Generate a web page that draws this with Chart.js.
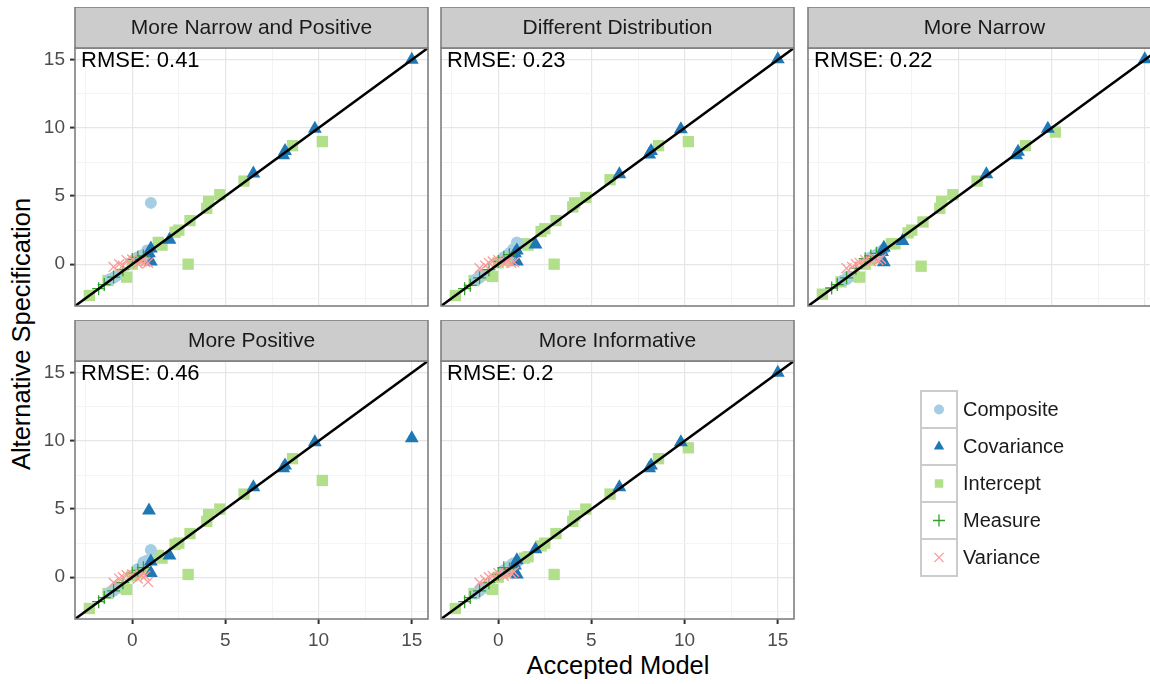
<!DOCTYPE html>
<html>
<head>
<meta charset="utf-8">
<script src="https://cdn.jsdelivr.net/npm/chart.js@4/dist/chart.umd.min.js"></script>
<style>
html, body { margin:0; padding:0; background:#ffffff; width:1150px; height:684px; overflow:hidden; position:relative; font-family:"Liberation Sans", Arial, sans-serif; }
canvas { position:absolute; }
.axis-title { position:absolute; color:#000; font-size:25.5px; white-space:nowrap; line-height:1; }
</style>
</head>
<body>
<div class="axis-title" style="left:618px; top:666px; transform:translate(-50%,-50%);">Accepted Model</div>
<div class="axis-title" style="left:22px; top:334px; transform:translate(-50%,-50%) rotate(-90deg);">Alternative Specification</div>
<script>
// ---------------- DATA ----------------
const panelTitles = ["More Narrow and Positive", "Different Distribution", "More Narrow", "More Positive", "More Informative"];
const rmseValues = ["0.41", "0.23", "0.22", "0.46", "0.2"];
const seriesNames = ["Composite", "Covariance", "Intercept", "Measure", "Variance"];
const tickLabels = [0, 5, 10, 15];
const gridValues = [-2.5, 0, 2.5, 5, 7.5, 10, 12.5, 15];
const axisRange = [-3.07, 15.87];
const referenceLine = [-4, 17];

// Accepted Model values (x) per parameter type
const compositeX  = [-1.2, -1.0, -0.9, 0.3, 0.6, 0.8, 1.0];
const covarianceX = [15.0, 9.8, 8.2, 8.1, 6.5, 2.0, 1.0, 1.0, 0.9];
const interceptX  = [-2.3, -1.3, -0.6, -0.3, 0.0, 0.3, 0.6, 1.4, 1.6, 2.3, 2.5, 3.0, 3.1, 4.0, 4.1, 4.7, 6.0, 8.6, 10.2];
const measureX    = [-1.8, -1.5, -1.0, -0.5, 0.0, 0.3, 0.6];
const varianceX   = [-1.0, -0.7, -0.5, -0.3, 0.0, 0.3, 0.5, 0.7, 0.85];

// Alternative Specification values (y), one row per panel
const compositeY = [
  [-1.1, -1.0, -0.9, 0.5, 0.7, 1.0, 4.5],
  [-1.1, -1.0, -0.8, 0.5, 0.8, 1.1, 1.6],
  [-1.2, -1.1, -0.9, 0.5, 0.7, 0.9, 1.1],
  [-1.1, -1.0, -0.8, 0.6, 1.1, 1.2, 2.0],
  [-1.2, -1.0, -0.8, 0.5, 0.8, 1.0, 1.1]
];
const covarianceY = [
  [15.0, 9.95, 8.3, 8.0, 6.65, 1.8, 1.15, 0.2, 0.8],
  [15.05, 9.9, 8.3, 8.05, 6.6, 1.45, 1.0, 0.2, 0.8],
  [15.05, 9.95, 8.25, 8.0, 6.6, 1.7, 1.2, 0.15, 0.9],
  [10.2, 9.9, 8.2, 8.0, 6.6, 1.6, 1.15, 0.3, 4.9],
  [15.0, 9.9, 8.2, 8.0, 6.6, 2.05, 1.25, 0.2, 0.85]
];
const interceptY = [
  [-2.3, -1.2, -0.75, -0.95, 0.0, 0.3, 0.6, 1.6, 1.4, 2.35, 2.5, 0.0, 3.2, 4.1, 4.6, 5.1, 6.1, 8.7, 9.0],
  [-2.3, -1.2, -0.8, -0.9, 0.1, 0.3, 0.5, 1.5, 1.4, 2.4, 2.6, 0.0, 3.2, 4.2, 4.5, 4.9, 6.2, 8.7, 9.0],
  [-2.2, -1.3, -0.9, -0.95, 0.0, 0.3, 0.6, 1.5, 1.5, 2.3, 2.5, -0.15, 3.1, 4.1, 4.6, 5.1, 6.1, 8.7, 9.7],
  [-2.3, -1.2, -0.8, -0.9, 0.1, 0.3, 0.6, 1.6, 1.4, 2.4, 2.5, 0.2, 3.2, 4.1, 4.6, 5.0, 6.1, 8.7, 7.1],
  [-2.3, -1.2, -0.8, -0.9, 0.0, 0.3, 0.6, 1.4, 1.5, 2.3, 2.5, 0.2, 3.2, 4.1, 4.5, 5.0, 6.1, 8.7, 9.5]
];
const measureY = [
  [-1.8, -1.5, -0.95, -0.4, 0.35, 0.5, 0.6],
  [-1.8, -1.55, -1.0, -0.4, 0.2, 0.5, 0.7],
  [-1.75, -1.5, -1.0, -0.3, 0.4, 0.6, 0.8],
  [-1.8, -1.5, -1.0, -0.4, 0.3, 0.5, 0.7],
  [-1.8, -1.5, -1.0, -0.4, 0.2, 0.7, 0.6]
];
const varianceY = [
  [-0.2, 0.0, -0.1, 0.3, 0.35, 0.05, 0.2, 0.15, 0.1],
  [-0.3, -0.1, 0.1, 0.2, 0.3, 0.1, 0.2, 0.1, 0.15],
  [-0.3, -0.2, 0.0, 0.1, 0.3, 0.2, 0.4, 0.3, 0.4],
  [-0.4, -0.1, 0.0, 0.15, 0.2, -0.1, 0.15, 0.1, -0.35],
  [-0.4, -0.2, 0.0, 0.1, 0.3, 0.1, 0.2, 0.3, 0.4]
];

// ---------------- STYLE / LAYOUT ----------------
const FONT = '"Liberation Sans", Arial, sans-serif';
const seriesX = [compositeX, covarianceX, interceptX, measureX, varianceX];
const seriesY = [compositeY, covarianceY, interceptY, measureY, varianceY];
const seriesStyle = [
  { pointStyle: 'circle',   radius: 6,   legendRadius: 5, color: '#A6CEE3', filled: true,  order: 4 },
  { pointStyle: 'triangle', radius: 8,   legendRadius: 6, color: '#1F78B4', filled: true,  order: 3 },
  { pointStyle: 'rect',     radius: 8,   legendRadius: 6, color: '#B2DF8A', filled: true,  order: 5 },
  { pointStyle: 'cross',    radius: 6.5, legendRadius: 6, color: '#33A02C', filled: false, order: 2 },
  { pointStyle: 'crossRot', radius: 7,   legendRadius: 6.5, color: '#FB9A99', filled: false, order: 1 }
];
const colLefts = [75, 441, 808];
const rowTops = [7, 320];
const STRIP = 41, PW = 353, PH = 258, YAX = 75, RPAD = 6;
const panelCell = [[0, 0], [1, 0], [2, 0], [0, 1], [1, 1]];
const showXAxis = [false, false, false, true, true];
const showYAxis = [true, false, false, true, false];

const panelPlugin = {
  id: 'panelDecor',
  afterDraw(chart, args, opts) {
    const ctx = chart.ctx;
    const a = chart.chartArea;
    ctx.save();
    // RMSE annotation
    ctx.fillStyle = '#000000';
    ctx.font = '22px ' + FONT;
    ctx.textAlign = 'left';
    ctx.textBaseline = 'middle';
    ctx.fillText('RMSE: ' + opts.rmse, a.left + 6, chart.scales.y.getPixelForValue(15) + 1);
    // panel border
    ctx.strokeStyle = '#7F7F7F';
    ctx.lineWidth = 1.6;
    ctx.strokeRect(a.left, a.top, a.right - a.left, a.bottom - a.top);
    // strip
    ctx.fillStyle = '#CCCCCC';
    ctx.fillRect(a.left, a.top - STRIP, a.right - a.left, STRIP);
    ctx.strokeRect(a.left, a.top - STRIP, a.right - a.left, STRIP);
    ctx.fillStyle = '#1A1A1A';
    ctx.font = '21px ' + FONT;
    ctx.textAlign = 'center';
    ctx.textBaseline = 'middle';
    ctx.fillText(opts.title, (a.left + a.right) / 2, a.top - STRIP / 2 + 1);
    ctx.restore();
  }
};

function axisOptions(showLabels) {
  return {
    type: 'linear',
    min: axisRange[0],
    max: axisRange[1],
    afterBuildTicks: (s) => { s.ticks = gridValues.map(v => ({ value: v })); },
    border: { display: false },
    grid: {
      color: (c) => (c.tick && c.tick.value % 5 === 0) ? '#E6E6E6' : '#F4F4F4',
      lineWidth: (c) => (c.tick && c.tick.value % 5 === 0) ? 1.2 : 1.0,
      drawTicks: showLabels,
      tickLength: 5,
      tickColor: (c) => (c.tick && tickLabels.includes(c.tick.value)) ? '#333333' : 'rgba(0,0,0,0)',
      tickWidth: 2
    },
    ticks: {
      display: showLabels,
      autoSkip: false,
      maxRotation: 0,
      padding: 5,
      color: '#4D4D4D',
      font: { family: FONT, size: 19 },
      callback: (v) => tickLabels.includes(v) ? String(v) : ''
    }
  };
}

function zeroPadding(s) {
  s.paddingTop = 0; s.paddingBottom = 0; s.paddingLeft = 0; s.paddingRight = 0;
}

panelTitles.forEach((title, p) => {
  const [c, r] = panelCell[p];
  const xh = showXAxis[p] ? 45 : 4;
  const W = YAX + PW + RPAD;
  const H = STRIP + PH + xh;
  const cv = document.createElement('canvas');
  cv.width = W; cv.height = H;
  cv.style.width = W + 'px'; cv.style.height = H + 'px';
  cv.style.left = (colLefts[c] - YAX) + 'px';
  cv.style.top = rowTops[r] + 'px';
  document.body.appendChild(cv);

  const datasets = seriesNames.map((name, s) => {
    const st = seriesStyle[s];
    return {
      label: name,
      data: seriesX[s].map((x, i) => ({ x: x, y: seriesY[s][p][i] })),
      pointStyle: st.pointStyle,
      pointRadius: st.radius,
      pointHoverRadius: st.radius,
      pointBackgroundColor: st.color,
      pointBorderColor: st.color,
      pointBorderWidth: st.filled ? 0 : 1.3,
      order: st.order
    };
  });
  datasets.push({
    type: 'line',
    label: 'identity',
    data: referenceLine.map(v => ({ x: v, y: v })),
    borderColor: '#000000',
    borderWidth: 2.6,
    pointRadius: 0,
    showLine: true,
    fill: false,
    clip: 0,
    order: 0
  });

  const xOpts = axisOptions(showXAxis[p]);
  xOpts.position = 'bottom';
  xOpts.afterFit = (s) => { s.height = xh; zeroPadding(s); };
  const yOpts = axisOptions(showYAxis[p]);
  yOpts.position = 'left';
  yOpts.afterFit = (s) => { s.width = YAX; zeroPadding(s); };

  new Chart(cv, {
    type: 'scatter',
    data: { datasets: datasets },
    options: {
      responsive: false,
      animation: false,
      devicePixelRatio: 1,
      layout: { autoPadding: false, padding: { top: STRIP, right: RPAD, left: 0, bottom: 0 } },
      plugins: {
        legend: { display: false },
        tooltip: { enabled: false },
        panelDecor: { title: title, rmse: rmseValues[p] }
      },
      scales: { x: xOpts, y: yOpts }
    },
    plugins: [panelPlugin]
  });
});

// ---------------- LEGEND ----------------
const legendPlugin = {
  id: 'keyLegend',
  afterDraw(chart) {
    const ctx = chart.ctx;
    const bx = 6, by = 6, bw = 36, bh = 37;
    ctx.save();
    seriesNames.forEach((name, s) => {
      const st = seriesStyle[s];
      const top = by + s * bh;
      ctx.fillStyle = '#FFFFFF';
      ctx.fillRect(bx, top, bw, bh);
      ctx.strokeStyle = '#CCCCCC';
      ctx.lineWidth = 2;
      ctx.strokeRect(bx, top, bw, bh);
      ctx.fillStyle = st.color;
      ctx.strokeStyle = st.color;
      ctx.lineWidth = 1.3;
      Chart.helpers.drawPoint(ctx, {
        pointStyle: st.pointStyle,
        radius: st.legendRadius,
        rotation: 0,
        borderWidth: st.filled ? 0 : 1.3
      }, bx + bw / 2, top + bh / 2);
      ctx.fillStyle = '#1A1A1A';
      ctx.font = '20px ' + FONT;
      ctx.textAlign = 'left';
      ctx.textBaseline = 'middle';
      ctx.fillText(name, bx + bw + 6, top + bh / 2 + 1);
    });
    ctx.restore();
  }
};
const lg = document.createElement('canvas');
lg.width = 230; lg.height = 200;
lg.style.width = '230px'; lg.style.height = '200px';
lg.style.left = '915px'; lg.style.top = '385px';
document.body.appendChild(lg);
new Chart(lg, {
  type: 'scatter',
  data: { datasets: [] },
  options: {
    responsive: false, animation: false, devicePixelRatio: 1,
    plugins: { legend: { display: false }, tooltip: { enabled: false } },
    scales: { x: { display: false }, y: { display: false } }
  },
  plugins: [legendPlugin]
});
</script>
</body>
</html>
